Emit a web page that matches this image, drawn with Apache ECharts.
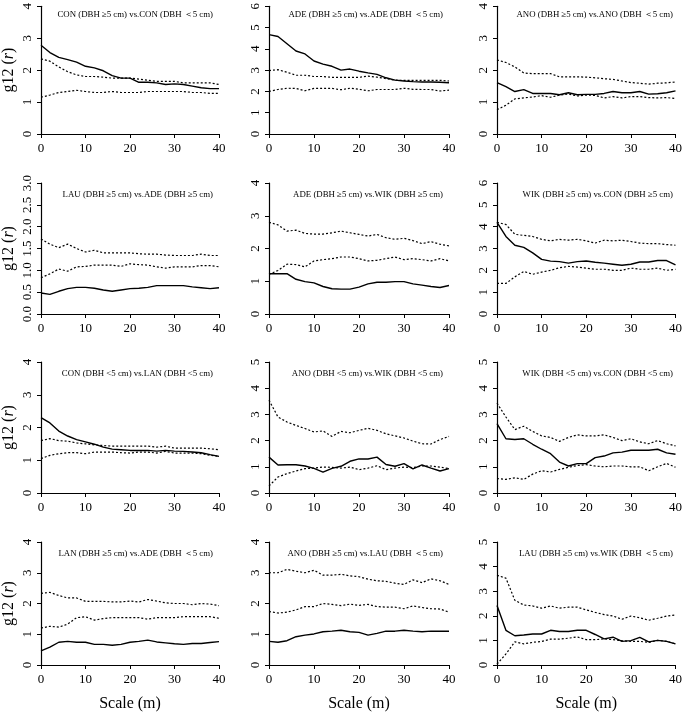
<!DOCTYPE html>
<html><head><meta charset="utf-8">
<script src="https://cdn.jsdelivr.net/npm/echarts@6/dist/echarts.min.js"></script>
<style>html,body{margin:0;padding:0;background:#fff}#c{width:685px;height:713px}</style>
</head><body><div id="c"></div>
<script>
const scale = [0,2,4,6,8,10,12,14,16,18,20,22,24,26,28,30,32,34,36,38,40];
const titles = [
  'CON (DBH ≥5 cm) vs.CON (DBH ＜5 cm)',
  'ADE (DBH ≥5 cm) vs.ADE (DBH ＜5 cm)',
  'ANO (DBH ≥5 cm) vs.ANO (DBH ＜5 cm)',
  'LAU (DBH ≥5 cm) vs.ADE (DBH ≥5 cm)',
  'ADE (DBH ≥5 cm) vs.WIK (DBH ≥5 cm)',
  'WIK (DBH ≥5 cm) vs.CON (DBH ≥5 cm)',
  'CON (DBH <5 cm) vs.LAN (DBH <5 cm)',
  'ANO (DBH <5 cm) vs.WIK (DBH <5 cm)',
  'WIK (DBH <5 cm) vs.CON (DBH <5 cm)',
  'LAN (DBH ≥5 cm) vs.ADE (DBH ＜5 cm)',
  'ANO (DBH ≥5 cm) vs.LAU (DBH ＜5 cm)',
  'LAU (DBH ≥5 cm) vs.WIK (DBH ＜5 cm)'
];
const yMax = [4,6,4,3,4,6,4,5,5,4,4,5];
const yStep = [1,1,1,0.5,1,1,1,1,1,1,1,1];
const xTicks = [0,10,20,30,40];

// observed g12(r) (solid) and simulation envelopes (dotted)
const obs1 = [2.78,2.55,2.4,2.33,2.25,2.12,2.07,1.98,1.83,1.75,1.75,1.62,1.62,1.6,1.55,1.57,1.55,1.5,1.45,1.42,1.42];
const hi1  = [2.35,2.28,2.1,1.95,1.85,1.8,1.8,1.78,1.75,1.75,1.75,1.72,1.68,1.65,1.65,1.65,1.6,1.6,1.6,1.6,1.55];
const lo1  = [1.15,1.22,1.3,1.33,1.37,1.33,1.3,1.3,1.33,1.3,1.3,1.3,1.33,1.33,1.33,1.33,1.33,1.3,1.3,1.27,1.27];

const obs2 = [4.67,4.58,4.24,3.9,3.76,3.43,3.28,3.18,3.0,3.05,2.95,2.87,2.8,2.64,2.53,2.49,2.46,2.44,2.44,2.43,2.41];
const hi2  = [2.98,3.02,2.9,2.76,2.76,2.7,2.7,2.66,2.66,2.66,2.66,2.72,2.67,2.6,2.53,2.52,2.52,2.52,2.52,2.52,2.49];
const lo2  = [2.0,2.09,2.15,2.14,2.03,2.14,2.14,2.14,2.08,2.15,2.1,2.03,2.09,2.09,2.09,2.15,2.1,2.09,2.09,2.02,2.06];

const obs3 = [1.61,1.48,1.33,1.39,1.27,1.27,1.27,1.23,1.29,1.23,1.24,1.24,1.27,1.33,1.29,1.29,1.33,1.25,1.26,1.29,1.35];
const hi3  = [2.32,2.24,2.1,1.91,1.89,1.89,1.89,1.79,1.79,1.79,1.78,1.76,1.73,1.71,1.66,1.61,1.59,1.56,1.59,1.6,1.63];
const lo3  = [0.76,0.9,1.1,1.13,1.16,1.2,1.15,1.22,1.25,1.19,1.22,1.21,1.13,1.17,1.13,1.17,1.17,1.14,1.13,1.14,1.11];

const obs4 = [0.48,0.45,0.52,0.58,0.61,0.61,0.59,0.55,0.52,0.55,0.58,0.59,0.61,0.65,0.65,0.65,0.65,0.62,0.6,0.58,0.6];
const hi4  = [1.72,1.6,1.52,1.6,1.5,1.42,1.46,1.4,1.4,1.4,1.4,1.38,1.37,1.37,1.35,1.34,1.34,1.34,1.37,1.34,1.34];
const lo4  = [0.83,0.92,1.03,0.98,1.08,1.09,1.12,1.12,1.12,1.09,1.15,1.13,1.12,1.08,1.05,1.08,1.08,1.08,1.11,1.11,1.08];

const obs5 = [1.23,1.23,1.23,1.06,0.99,0.95,0.84,0.77,0.76,0.76,0.82,0.92,0.97,0.97,0.99,0.99,0.92,0.88,0.84,0.81,0.87];
const hi5  = [2.8,2.72,2.53,2.56,2.46,2.44,2.44,2.48,2.53,2.48,2.43,2.38,2.43,2.33,2.28,2.31,2.24,2.15,2.21,2.13,2.08];
const lo5  = [1.21,1.33,1.52,1.51,1.44,1.62,1.66,1.69,1.74,1.74,1.69,1.62,1.64,1.69,1.74,1.66,1.69,1.66,1.62,1.69,1.62];

const obs6 = [4.2,3.55,3.15,3.05,2.8,2.5,2.42,2.4,2.33,2.4,2.43,2.37,2.33,2.28,2.23,2.28,2.38,2.38,2.45,2.45,2.25];
const hi6  = [4.2,4.1,3.65,3.6,3.55,3.42,3.35,3.42,3.38,3.42,3.35,3.25,3.38,3.35,3.38,3.32,3.25,3.22,3.22,3.18,3.15];
const lo6  = [1.4,1.4,1.7,1.95,1.82,1.92,2.0,2.12,2.18,2.15,2.1,2.05,2.05,2.0,2.0,2.1,2.05,2.05,2.1,2.0,2.05];

const obs7 = [2.3,2.14,1.89,1.74,1.63,1.56,1.49,1.4,1.34,1.32,1.3,1.3,1.3,1.28,1.3,1.28,1.27,1.25,1.23,1.17,1.12];
const hi7  = [1.6,1.66,1.6,1.58,1.53,1.5,1.47,1.45,1.43,1.43,1.43,1.43,1.43,1.4,1.43,1.37,1.37,1.37,1.37,1.35,1.32];
const lo7  = [1.05,1.15,1.2,1.23,1.23,1.2,1.25,1.25,1.25,1.23,1.22,1.25,1.25,1.22,1.27,1.22,1.22,1.22,1.2,1.15,1.12];

const obs8 = [1.37,1.07,1.08,1.08,1.03,0.94,0.8,0.94,1.02,1.21,1.3,1.3,1.37,1.09,1.02,1.12,0.92,1.07,0.95,0.84,0.93];
const hi8  = [3.54,2.9,2.71,2.58,2.46,2.33,2.37,2.16,2.35,2.3,2.39,2.47,2.39,2.26,2.18,2.1,1.98,1.88,1.87,2.04,2.16];
const lo8  = [0.27,0.61,0.74,0.84,0.93,0.95,0.99,0.98,0.95,0.99,0.89,0.95,1.04,0.89,0.95,0.99,0.97,1.03,1.03,0.99,0.93];

const obs9 = [2.65,2.07,2.04,2.07,1.86,1.67,1.5,1.18,1.03,1.12,1.12,1.35,1.41,1.53,1.56,1.63,1.63,1.63,1.67,1.53,1.48];
const hi9  = [3.43,2.9,2.42,2.55,2.35,2.18,2.12,1.97,2.12,2.22,2.18,2.18,2.22,2.12,2.0,2.07,1.95,1.88,2.0,1.88,1.8];
const lo9  = [0.55,0.52,0.58,0.52,0.72,0.85,0.8,0.9,0.98,1.05,1.08,1.03,1.0,1.03,1.03,1.0,1.0,0.85,1.0,1.13,0.98];

const obs10 = [0.46,0.58,0.74,0.77,0.74,0.74,0.67,0.67,0.64,0.67,0.74,0.77,0.81,0.75,0.72,0.69,0.67,0.7,0.7,0.73,0.76];
const hi10  = [2.33,2.36,2.26,2.18,2.18,2.07,2.07,2.07,2.05,2.05,2.08,2.05,2.13,2.08,2.02,2.0,2.0,1.96,2.0,1.98,1.93];
const lo10  = [1.2,1.26,1.23,1.33,1.54,1.57,1.46,1.51,1.54,1.54,1.54,1.54,1.49,1.54,1.54,1.54,1.57,1.57,1.57,1.57,1.52];

const obs11 = [0.77,0.74,0.79,0.92,0.97,1.01,1.08,1.1,1.13,1.08,1.06,0.97,1.03,1.1,1.1,1.13,1.1,1.08,1.1,1.1,1.1];
const hi11  = [3.0,3.0,3.11,3.05,3.0,3.08,2.92,2.92,2.95,2.9,2.87,2.79,2.74,2.72,2.66,2.62,2.77,2.68,2.8,2.74,2.62];
const lo11  = [1.74,1.69,1.72,1.79,1.9,1.9,2.0,1.97,1.93,1.98,1.94,1.97,1.9,1.88,1.88,1.83,1.92,1.87,1.83,1.82,1.72];

const obs12 = [2.42,1.41,1.19,1.22,1.26,1.26,1.41,1.36,1.36,1.41,1.41,1.24,1.06,1.13,0.96,0.99,1.12,0.94,1.0,0.96,0.86];
const hi12  = [3.65,3.53,2.63,2.44,2.4,2.31,2.4,2.31,2.35,2.35,2.24,2.14,2.05,1.99,1.86,1.99,1.92,1.82,1.9,1.99,2.03];
const lo12  = [0.04,0.45,0.94,0.86,0.92,0.96,1.05,1.05,1.09,1.14,1.03,1.03,1.06,1.03,0.99,0.96,0.96,0.92,1.0,0.96,0.86];

const observed = [obs1,obs2,obs3,obs4,obs5,obs6,obs7,obs8,obs9,obs10,obs11,obs12];
const upper = [hi1,hi2,hi3,hi4,hi5,hi6,hi7,hi8,hi9,hi10,hi11,hi12];
const lower = [lo1,lo2,lo3,lo4,lo5,lo6,lo7,lo8,lo9,lo10,lo11,lo12];

const colLeft = [39, 269, 497];
const colWidth = [180, 180, 182];
const rowTop = [3, 183, 362, 542];
const rowHeight = 131;
const FONT = '"Liberation Serif","DejaVu Serif",serif';

const chart = echarts.init(document.getElementById('c'), null, {renderer: 'canvas'});
const grid = [], xAxis = [], yAxis = [], series = [], title = [];
const pair = (arr) => scale.map((x, i) => [x, arr[i]]);

for (let k = 0; k < 12; k++) {
  const r = Math.floor(k / 3), c = k % 3;
  grid.push({left: colLeft[c], top: rowTop[r], width: colWidth[c], height: rowHeight, containLabel: false});
  xAxis.push({
    type: 'value', gridIndex: k, min: 0, max: 40, interval: 10,
    axisLine: {show: true, lineStyle: {color: '#000', width: 1.2}},
    axisTick: {show: true, length: 4, lineStyle: {color: '#000', width: 1}},
    axisLabel: {color: '#000', fontFamily: FONT, fontSize: 13, margin: 8},
    splitLine: {show: false},
    name: r === 3 ? 'Scale (m)' : '', nameLocation: 'middle', nameGap: 31,
    nameTextStyle: {color: '#000', fontFamily: FONT, fontSize: 16}
  });
  yAxis.push({
    type: 'value', gridIndex: k, min: 0, max: yMax[k], interval: yStep[k],
    axisLine: {show: true, lineStyle: {color: '#000', width: 1.2}},
    axisTick: {show: true, length: 4, lineStyle: {color: '#000', width: 1}},
    axisLabel: {color: '#000', fontFamily: FONT, fontSize: 13, rotate: 90, margin: 7,
      formatter: (v) => yStep[k] < 1 ? v.toFixed(1) : String(v)},
    splitLine: {show: false},
    name: c === 0 ? 'g12 ({i|r})' : '', nameLocation: 'middle', nameGap: 24, nameRotate: 90,
    nameTextStyle: {color: '#000', fontFamily: FONT, fontSize: 16,
      rich: {i: {fontStyle: 'italic', fontFamily: FONT, fontSize: 16, color: '#000'}}}
  });
  title.push({
    text: titles[k],
    right: 685 - (colLeft[c] + colWidth[c]) + 1,
    top: rowTop[r] + 2,
    textStyle: {color: '#000', fontFamily: FONT, fontSize: 8.8, fontWeight: 'normal'}
  });
  series.push({type: 'line', xAxisIndex: k, yAxisIndex: k, data: pair(upper[k]), symbol: 'none',
    lineStyle: {color: '#000', width: 1.2, type: [2, 2]}, silent: true, animation: false});
  series.push({type: 'line', xAxisIndex: k, yAxisIndex: k, data: pair(lower[k]), symbol: 'none',
    lineStyle: {color: '#000', width: 1.2, type: [2, 2]}, silent: true, animation: false});
  series.push({type: 'line', xAxisIndex: k, yAxisIndex: k, data: pair(observed[k]), symbol: 'none',
    lineStyle: {color: '#000', width: 1.4, type: 'solid'}, silent: true, animation: false});
}

chart.setOption({animation: false, backgroundColor: '#fff', title, grid, xAxis, yAxis, series});
</script>
</body></html>
